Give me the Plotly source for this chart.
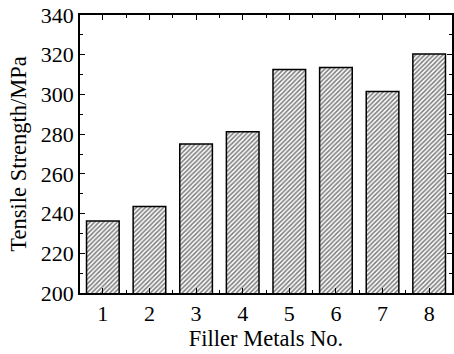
import plotly.graph_objects as go

categories = [1, 2, 3, 4, 5, 6, 7, 8]
tick_labels = ["1", "2", "3", "4", "5", "6", "7", "8"]
tensile_strength = [236.3, 243.5, 275.0, 281.2, 312.5, 313.5, 301.5, 320.3]
y_ticks = [200, 220, 240, 260, 280, 300, 320, 340]

FONT = "Liberation Serif"

fig = go.Figure()
fig.add_trace(go.Bar(
    x=categories,
    y=tensile_strength,
    width=0.7,
    marker=dict(
        color="white",
        line=dict(color="black", width=1.5),
        pattern=dict(shape="/", fgcolor="black", bgcolor="white", size=3.2, solidity=0.5),
    ),
    showlegend=False,
))

fig.update_layout(
    width=454, height=354,
    margin=dict(l=80, r=2, t=15, b=61),
    plot_bgcolor="white",
    paper_bgcolor="white",
    font=dict(family=FONT, size=22, color="black"),
)
fig.update_xaxes(
    range=[0.51, 8.49],
    tickvals=categories,
    ticktext=tick_labels,
    ticks="inside", ticklen=5, tickwidth=1.2, tickcolor="black",
    minor=dict(tickvals=[1.5, 2.5, 3.5, 4.5, 5.5, 6.5, 7.5], ticks="inside", ticklen=3, tickcolor="black", tickwidth=1.2),
    showline=True, linecolor="black", linewidth=1.5, mirror="allticks",
    showgrid=False, zeroline=False, automargin=False,
    title=dict(text="Filler Metals No.", font=dict(family=FONT, size=22.5), standoff=5),
    tickfont=dict(family=FONT, size=22),
)
fig.update_yaxes(
    range=[200, 340],
    tickvals=y_ticks,
    ticks="inside", ticklen=5, tickwidth=1.2, tickcolor="black",
    minor=dict(dtick=10, tick0=200, ticks="inside", ticklen=3, tickcolor="black", tickwidth=1.2),
    showline=True, linecolor="black", linewidth=1.5, mirror="allticks",
    showgrid=False, zeroline=False, automargin=False,
    title=dict(text="Tensile Strength/MPa", font=dict(family=FONT, size=22.5), standoff=8),
    tickfont=dict(family=FONT, size=22),
)

fig.write_html(
    "out.html",
    config={"displayModeBar": False},
    post_script="document.body.style.margin='0';document.body.style.overflow='hidden';",
)
